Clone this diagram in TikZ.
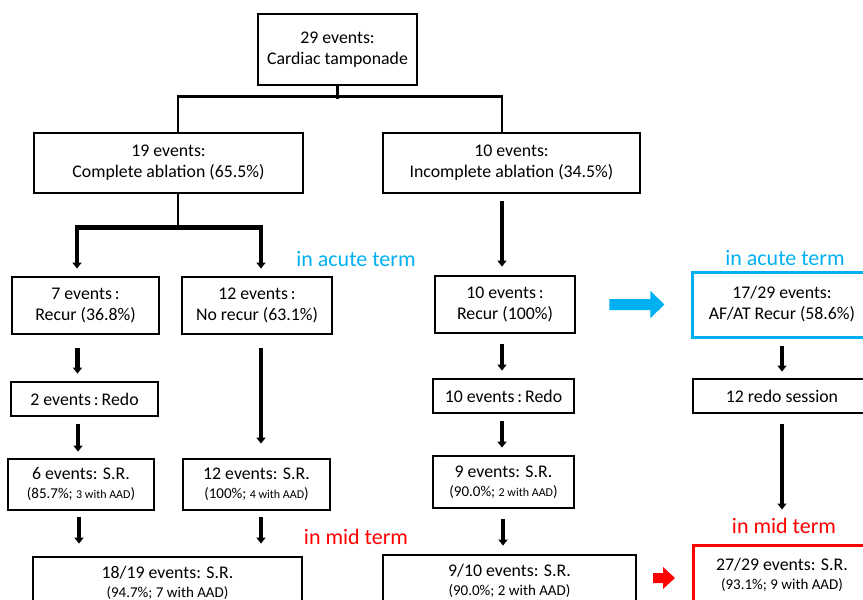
\documentclass[tikz,border=0pt]{standalone}
\usepackage{fontspec}
\setmainfont{Carlito}
\usetikzlibrary{arrows.meta, calc}
\definecolor{acute}{RGB}{0, 176, 240}
\definecolor{midterm}{RGB}{255, 0, 0}
\newcommand{\pctfont}{\fontsize{15}{18}\selectfont}
\newcommand{\aadfont}{\fontsize{12}{18}\selectfont}

\begin{document}
\begin{tikzpicture}[
    x=1pt, y=-1pt,
    >={Triangle[width=9pt,length=6pt]},
    stage/.style={rectangle, draw=#1, line width=2.8pt, align=center, inner sep=0pt, font=\fontsize{17.8}{21}\selectfont},
    stage/.default=black,
    tree/.style={line width=2.6pt},
    flow/.style={->, line width=4.2pt},
    term/.style={font=\fontsize{22}{26}\selectfont, text=#1}
  ]
  \clip (0,0) rectangle (863,600);

  % Top of the tree
  \node[stage, minimum width=159, minimum height=71] (tamp) at (337.5, 49.5) {29 events:\\Cardiac tamponade};
  \node[stage, minimum width=269, minimum height=60] (comp) at (168.5, 163) {19 events:\\Complete ablation (65.5\%)};
  \node[stage, minimum width=257, minimum height=60] (incomp) at (511.5, 163) {10 events:\\Incomplete ablation (34.5\%)};

  % Complete ablation branch
  \node[stage, minimum width=147, minimum height=57] (recur7) at (85.5, 305.5) {7 events\,:\\Recur (36.8\%)};
  \node[stage, minimum width=150, minimum height=57] (norecur) at (257, 305.5) {12 events\,:\\No recur (63.1\%)};
  \node[stage, minimum width=147, minimum height=34] (redo2) at (84.5, 399) {2 events\,:\,Redo};
  \node[stage, minimum width=146, minimum height=51] (sr6) at (81, 484.5) {6 events: S.R.\\[-2pt]{\pctfont (85.7\%; {\aadfont 3 with AAD})}};
  \node[stage, minimum width=147, minimum height=51] (sr12) at (256.5, 484.5) {12 events: S.R.\\[-2pt]{\pctfont (100\%; {\aadfont 4 with AAD})}};
  \node[stage, minimum width=269, minimum height=52] (sr18) at (167.5, 583) {18/19 events: S.R.\\[-2pt]{\pctfont (94.7\%; 7 with AAD)}};

  % Incomplete ablation branch
  \node[stage, minimum width=140, minimum height=57] (recur10) at (505, 304.5) {10 events\,:\\Recur (100\%)};
  \node[stage, minimum width=141, minimum height=34] (redo10) at (503.5, 396) {10 events\,:\,Redo};
  \node[stage, minimum width=141, minimum height=52] (sr9) at (503.5, 482) {9 events: S.R.\\[-2pt]{\pctfont (90.0\%; {\aadfont 2 with AAD})}};
  \node[stage, minimum width=253, minimum height=52] (sr9of10) at (509.5, 581) {9/10 events: S.R.\\[-2pt]{\pctfont (90.0\%; 2 with AAD)}};

  % Overall
  \node[stage=acute, line width=3pt, minimum width=180, minimum height=65] (afat) at (782, 304.5) {17/29 events:\\AF/AT Recur (58.6\%)};
  \node[stage, minimum width=178, minimum height=34] (redo12) at (782, 396) {12 redo session};
  \node[stage=midterm, line width=3pt, minimum width=178, minimum height=60] (sr27) at (782, 575) {27/29 events: S.R.\\[-2pt]{\pctfont (93.1\%; 9 with AAD)}};

  % Period labels
  \node[term=acute] (acuteL) at (356, 259) {in acute term};
  \node[term=acute] (acuteR) at (785, 258) {in acute term};
  \node[term=midterm] (midL) at (356, 537) {in mid term};
  \node[term=midterm] (midR) at (784, 526) {in mid term};

  % Tree lines
  \draw[tree] (tamp.south) -- ++(0,13);
  \draw[tree] ([xshift=9.5pt]comp.north) -- ++(0,-35) -| ([xshift=-9.5pt]incomp.north);
  \draw[tree] ([xshift=9.5pt]comp.south) -- ++(0,33) coordinate (cj);
  \draw[flow, shorten >=7pt] (cj) -| ([xshift=-8.5pt]recur7.north);
  \draw[flow, shorten >=7pt] (cj) -| ([xshift=4pt]norecur.north);

  % Arrows, complete ablation
  \draw[flow, shorten <=13pt, shorten >=7pt] ([xshift=-8pt]recur7.south) -- ([xshift=-7pt]redo2.north);
  \draw[flow, shorten <=7pt, shorten >=6pt] ([xshift=-6.5pt]redo2.south) -- ([xshift=-3pt]sr6.north);
  \draw[flow, shorten <=13pt, shorten >=14pt] ([xshift=4pt]norecur.south) -- ([xshift=4.5pt]sr12.north);
  \draw[flow, shorten <=6pt, shorten >=12pt] ([xshift=-2pt]sr6.south) -- ([xshift=-2pt]sr6.south |- sr18.north);
  \draw[flow, shorten <=6pt, shorten >=12pt] ([xshift=4.5pt]sr12.south) -- ([xshift=4.5pt]sr12.south |- sr18.north);

  % Arrows, incomplete ablation
  \draw[flow, shorten <=7pt, shorten >=8pt] ([xshift=-9.5pt]incomp.south) -- ([xshift=-3pt]recur10.north);
  \draw[flow, shorten <=10pt, shorten >=7pt] ([xshift=-3pt]recur10.south) -- ([xshift=-1.5pt]redo10.north);
  \draw[flow, shorten <=7pt, shorten >=7pt] ([xshift=-1.5pt]redo10.south) -- ([xshift=-1.5pt]sr9.north);
  \draw[flow, shorten <=10pt, shorten >=8pt] ([xshift=-0.5pt]sr9.south) -- ([xshift=-0.5pt]sr9.south |- sr9of10.north);

  % Arrows, overall
  \draw[flow, shorten <=7pt, shorten >=6pt] (afat.south) -- (redo12.north);
  \draw[flow, shorten <=10pt, shorten >=34pt] (redo12.south) -- (sr27.north);

  % Block arrows
  \coordinate (toacute) at ($(recur10.east)!0.29!(afat.west)$);
  \fill[acute] (toacute) ++(0,-5.5) -- ++(41,0) -- ++(0,-8) -- ++(14,13.5) -- ++(-14,13.5) -- ++(0,-8) -- ++(-41,0) -- cycle;
  \coordinate (tomid) at (653, 578);
  \fill[midterm] (tomid) ++(0,-5) -- ++(10,0) -- ++(0,-6) -- ++(12,11) -- ++(-12,11) -- ++(0,-6) -- ++(-10,0) -- cycle;

\end{tikzpicture}
\end{document}
